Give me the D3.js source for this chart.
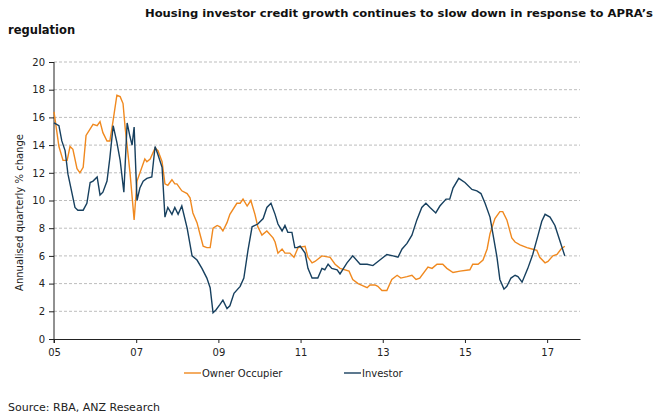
<!DOCTYPE html>
<html>
<head>
<meta charset="utf-8">
<script src="https://cdn.jsdelivr.net/npm/d3@7"></script>
<style>
  body { margin: 0; background: #fff; }
  svg { font-family: "DejaVu Sans", Verdana, sans-serif; }
</style>
</head>
<body>
<svg width="660" height="418"></svg>
<script>
// chart data (decimal years / % change)
const ownerDates = [2005.00, 2005.12, 2005.22, 2005.32, 2005.39, 2005.46, 2005.56, 2005.63, 2005.71, 2005.78, 2005.95,
  2006.05, 2006.12, 2006.19, 2006.29, 2006.36, 2006.44, 2006.53, 2006.61, 2006.68, 2006.73, 2006.85, 2006.95,
  2007.02, 2007.21, 2007.26, 2007.34, 2007.46, 2007.53, 2007.63, 2007.70, 2007.77, 2007.87, 2007.94, 2007.99,
  2008.11, 2008.24, 2008.31, 2008.38, 2008.48, 2008.55, 2008.63, 2008.72, 2008.80, 2008.87, 2008.97,
  2009.04, 2009.11, 2009.21, 2009.28, 2009.45, 2009.53, 2009.60, 2009.70, 2009.79, 2009.89, 2009.96,
  2010.06, 2010.18, 2010.33, 2010.38, 2010.45, 2010.55, 2010.62, 2010.74, 2010.84, 2010.94,
  2011.11, 2011.18, 2011.28, 2011.35, 2011.52, 2011.72, 2011.84, 2011.96,
  2012.18, 2012.27, 2012.40, 2012.62, 2012.69, 2012.81, 2012.88, 2012.98,
  2013.10, 2013.22, 2013.35, 2013.44, 2013.59, 2013.71, 2013.81, 2013.90,
  2014.10, 2014.20, 2014.32, 2014.46, 2014.56, 2014.71, 2014.88,
  2015.12, 2015.19, 2015.32, 2015.44, 2015.54, 2015.61, 2015.73, 2015.85, 2015.92,
  2016.02, 2016.14, 2016.22, 2016.34, 2016.51, 2016.63, 2016.75, 2016.82, 2016.95,
  2017.02, 2017.14, 2017.24, 2017.34, 2017.43];
const ownerValues = [16.4, 13.9, 12.9, 12.9, 13.9, 13.7, 12.3, 12.0, 12.4, 14.7, 15.5,
  15.4, 15.7, 14.9, 14.3, 14.3, 15.8, 17.6, 17.5, 17.0, 15.3, 12.0, 8.6,
  11.4, 13.0, 12.8, 13.0, 13.8, 13.6, 12.8, 11.2, 11.1, 11.5, 11.2, 11.2,
  10.7, 10.5, 10.2, 9.1, 8.4, 7.6, 6.7, 6.6, 6.6, 8.0, 8.2,
  8.1, 7.8, 8.4, 9.0, 9.8, 9.8, 10.1, 9.6, 10.0, 9.0, 8.1,
  7.5, 7.8, 7.3, 7.0, 6.2, 6.5, 6.2, 6.2, 5.9, 6.6,
  6.7, 5.9, 5.5, 5.6, 6.0, 5.9, 5.4, 5.1,
  4.9, 4.3, 4.0, 3.7, 3.9, 3.9, 3.8, 3.5,
  3.5, 4.3, 4.6, 4.4, 4.5, 4.6, 4.3, 4.4,
  5.2, 5.1, 5.4, 5.4, 5.1, 4.8, 4.9,
  5.0, 5.4, 5.4, 5.7, 6.5, 7.6, 8.7, 9.2, 9.2,
  8.6, 7.3, 7.0, 6.8, 6.6, 6.5, 6.4, 5.9, 5.5,
  5.6, 6.0, 6.1, 6.5, 6.7];

const investorDates = [2005.00, 2005.12, 2005.19, 2005.27, 2005.34, 2005.44, 2005.51, 2005.58, 2005.71, 2005.80, 2005.88, 2005.95,
  2006.05, 2006.12, 2006.19, 2006.29, 2006.36, 2006.44, 2006.53, 2006.61, 2006.70, 2006.78, 2006.85, 2006.90, 2006.95,
  2007.02, 2007.09, 2007.17, 2007.26, 2007.38, 2007.46, 2007.53, 2007.63, 2007.70, 2007.77, 2007.87, 2007.94,
  2008.02, 2008.11, 2008.24, 2008.36, 2008.48, 2008.60, 2008.72, 2008.80, 2008.87, 2008.94,
  2009.04, 2009.11, 2009.21, 2009.28, 2009.38, 2009.53, 2009.62, 2009.72, 2009.82, 2009.89, 2009.96,
  2010.09, 2010.18, 2010.28, 2010.38, 2010.45, 2010.55, 2010.62, 2010.69, 2010.79, 2010.86, 2010.91, 2010.99,
  2011.11, 2011.18, 2011.28, 2011.42, 2011.52, 2011.59, 2011.67, 2011.76, 2011.89, 2011.96,
  2012.13, 2012.27, 2012.45, 2012.62, 2012.76, 2012.93,
  2013.10, 2013.25, 2013.37, 2013.47, 2013.59, 2013.71, 2013.83, 2013.95,
  2014.05, 2014.15, 2014.29, 2014.39, 2014.54, 2014.63, 2014.71, 2014.85,
  2015.00, 2015.17, 2015.29, 2015.39, 2015.49, 2015.61, 2015.68, 2015.78, 2015.85, 2015.95,
  2016.02, 2016.12, 2016.22, 2016.29, 2016.39, 2016.46, 2016.53, 2016.65, 2016.78, 2016.87, 2016.95,
  2017.07, 2017.19, 2017.31, 2017.43];
const investorValues = [15.6, 15.4, 14.3, 13.6, 11.9, 10.5, 9.5, 9.3, 9.3, 9.8, 11.3, 11.4,
  11.7, 10.4, 10.6, 11.4, 13.1, 15.4, 14.2, 12.9, 10.6, 15.6, 14.6, 14.0, 15.3,
  10.0, 10.9, 11.4, 11.6, 11.7, 13.9, 13.3, 12.4, 8.8, 9.5, 9.0, 9.5,
  9.0, 9.6, 8.0, 6.0, 5.7, 5.1, 4.4, 3.7, 1.9, 2.1,
  2.5, 2.8, 2.2, 2.4, 3.3, 3.8, 4.4, 6.4, 8.1, 8.2, 8.3,
  8.7, 9.5, 9.8, 9.0, 8.3, 7.8, 8.2, 7.7, 7.7, 6.6, 6.6, 6.7,
  6.2, 5.1, 4.4, 4.4, 5.1, 5.0, 5.4, 5.1, 5.0, 4.7,
  5.5, 6.0, 5.4, 5.4, 5.3, 5.7,
  6.1, 6.0, 5.9, 6.5, 6.9, 7.5, 8.6, 9.5,
  9.8, 9.5, 9.1, 9.6, 10.1, 10.1, 10.9, 11.6,
  11.3, 10.8, 10.7, 10.5, 9.8, 8.8, 7.6, 5.9, 4.3, 3.6,
  3.8, 4.4, 4.6, 4.5, 4.1, 4.6, 5.1, 6.1, 7.5, 8.5, 9.0,
  8.8, 8.2, 7.1, 6.0];

const yTicks = [0, 2, 4, 6, 8, 10, 12, 14, 16, 18, 20];
const xTickYears = [2005, 2007, 2009, 2011, 2013, 2015, 2017];
const xTickLabels = ["05", "07", "09", "11", "13", "15", "17"];
const seriesNames = ["Owner Occupier", "Investor"];
const seriesColors = ["#f0891f", "#17405f"];

const svg = d3.select("svg");

// 1) scales
const x = d3.scaleLinear().domain([2005, 2017.8]).range([54, 580]);
const y = d3.scaleLinear().domain([0, 20]).range([339, 62]);

// 2) gridlines
svg.append("g")
  .selectAll("line")
  .data(yTicks.filter(d => d > 0))
  .enter()
  .append("line")
  .attr("x1", x(2005))
  .attr("x2", x.range()[1])
  .attr("y1", d => y(d))
  .attr("y2", d => y(d))
  .attr("stroke", "#bdbdbd")
  .attr("stroke-width", 1)
  .attr("stroke-dasharray", "3,2");

// 3) axes
const yAxis = d3.axisLeft(y).tickValues(yTicks).tickSize(5).tickPadding(4);
const yG = svg.append("g").attr("transform", `translate(${x(2005)},0)`).call(yAxis);
yG.select(".domain").attr("d", `M0,${y(20)}V${y(0) + 4}`);

const xAxis = d3.axisBottom(x)
  .tickValues(xTickYears)
  .tickFormat((d, i) => xTickLabels[i])
  .tickSize(4)
  .tickPadding(6)
  .tickSizeOuter(0);
const xG = svg.append("g").attr("transform", `translate(0,${y(0)})`).call(xAxis);

[yG, xG].forEach(a => {
  a.selectAll("text").attr("font-size", 10).attr("fill", "#222")
    .attr("font-family", "DejaVu Sans, Verdana, sans-serif");
  a.selectAll("line").attr("stroke", "#222");
  a.select(".domain").attr("stroke", "#222");
});

// 4) lines
const line = d3.line().x(d => x(d[0])).y(d => y(d[1]));
const ownerData = ownerDates.map((d, i) => [d, ownerValues[i]]);
const investorData = investorDates.map((d, i) => [d, investorValues[i]]);

svg.append("path")
  .datum(ownerData)
  .attr("fill", "none")
  .attr("stroke", seriesColors[0])
  .attr("stroke-width", 1.4)
  .attr("d", line);

svg.append("path")
  .datum(investorData)
  .attr("fill", "none")
  .attr("stroke", seriesColors[1])
  .attr("stroke-width", 1.4)
  .attr("d", line);

// 5) titles and labels
svg.append("text")
  .attr("x", 145).attr("y", 17)
  .attr("font-size", 11).attr("font-weight", "bold").attr("fill", "#111")
  .attr("textLength", 508).attr("lengthAdjust", "spacingAndGlyphs")
  .text("Housing investor credit growth continues to slow down in response to APRA’s");
svg.append("text")
  .attr("x", 8).attr("y", 34)
  .attr("font-size", 11.5).attr("font-weight", "bold").attr("fill", "#111")
  .text("regulation");

svg.append("text")
  .attr("transform", `translate(23,${(y(20) + y(0)) / 2 + 12}) rotate(-90)`)
  .attr("text-anchor", "middle")
  .attr("font-size", 10).attr("fill", "#222")
  .text("Annualised quarterly % change");

// 6) legend
const legendX = [184, 344];
seriesNames.forEach((name, i) => {
  svg.append("line")
    .attr("x1", legendX[i]).attr("x2", legendX[i] + 17)
    .attr("y1", 373).attr("y2", 373)
    .attr("stroke", seriesColors[i]).attr("stroke-width", 1.4);
  svg.append("text")
    .attr("x", legendX[i] + 18).attr("y", 377)
    .attr("font-size", 10).attr("fill", "#222")
    .text(name);
});

svg.append("text")
  .attr("x", 8).attr("y", 411)
  .attr("font-size", 11).attr("fill", "#222")
  .text("Source: RBA, ANZ Research");
</script>
</body>
</html>
